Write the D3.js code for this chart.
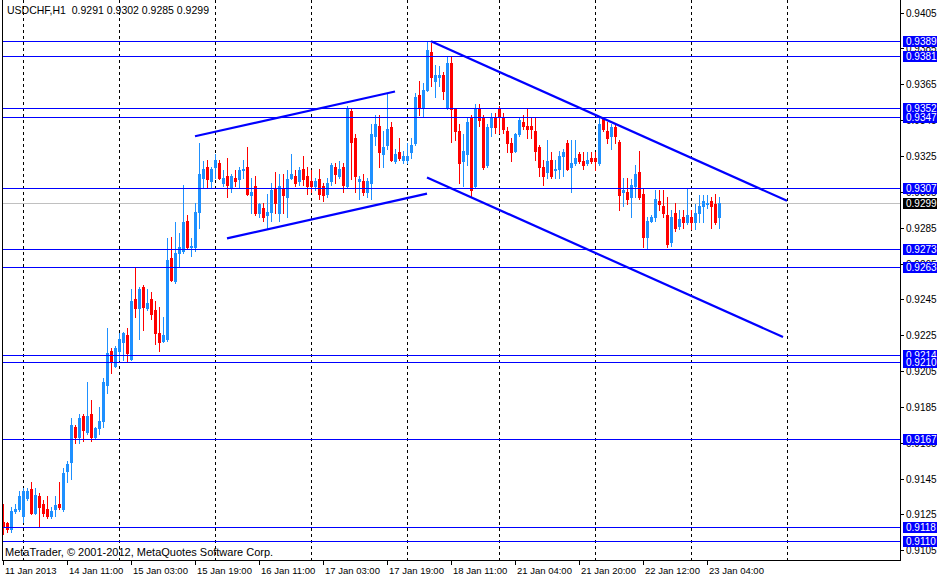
<!DOCTYPE html>
<html>
<head>
<meta charset="utf-8">
<script src="https://cdn.jsdelivr.net/npm/d3@7"></script>
<style>
  body { margin: 0; background: #fff; }
  svg { display: block; font-family: "Liberation Sans", Arial, sans-serif; font-size: 10px; }
</style>
</head>
<body>
<div id="chart"></div>
<script>
// USDCHF H1, one value per bar
var open = [0.9121,0.9120,0.9117,0.9127,0.9128,0.9124,0.9134,0.9139,0.9126,0.9135,
  0.9131,0.9128,0.9124,0.9128,0.9131,0.9128,0.9149,0.9154,0.9174,0.9168,
  0.9180,0.9171,0.9181,0.9168,0.9173,0.9177,0.9197,0.9216,0.9208,0.9216,
  0.9221,0.9225,0.9212,0.9245,0.9240,0.9252,0.9240,0.9245,0.9239,0.9226,
  0.9222,0.9223,0.9268,0.9255,0.9271,0.9272,0.9289,0.9274,0.9274,0.9294,
  0.9313,0.9319,0.9311,0.9319,0.9321,0.9310,0.9314,0.9307,0.9313,0.9312,
  0.9317,0.9319,0.9303,0.9308,0.9293,0.9296,0.9292,0.9294,0.9307,0.9293,
  0.9307,0.9302,0.9313,0.9314,0.9311,0.9318,0.9314,0.9311,0.9308,0.9312,
  0.9308,0.9304,0.9311,0.9319,0.9314,0.9319,0.9308,0.9350,0.9335,0.9311,
  0.9311,0.9305,0.9310,0.9336,0.9342,0.9326,0.9331,0.9341,0.9322,0.9327,
  0.9323,0.9323,0.9327,0.9332,0.9359,0.9352,0.9362,0.9383,0.9367,0.9369,
  0.9370,0.9352,0.9377,0.9351,0.9339,0.9322,0.9326,0.9347,0.9308,0.9352,
  0.9346,0.9320,0.9341,0.9347,0.9352,0.9347,0.9339,0.9332,0.9328,0.9337,
  0.9344,0.9342,0.9342,0.9339,0.9330,0.9319,0.9316,0.9323,0.9317,0.9318,
  0.9325,0.9332,0.9319,0.9321,0.9326,0.9322,0.9321,0.9324,0.9324,0.9321,
  0.9346,0.9339,0.9336,0.9341,0.9333,0.9305,0.9305,0.9302,0.9308,0.9316,
  0.9304,0.9280,0.9289,0.9291,0.9300,0.9297,0.9292,0.9277,0.9293,0.9286,
  0.9291,0.9288,0.9291,0.9288,0.9293,0.9297,0.9298,0.9300,0.9298,0.9291];
var high = [0.9131,0.9121,0.9129,0.9131,0.9138,0.9140,0.9140,0.9143,0.9140,0.9137,
  0.9133,0.9135,0.9129,0.9135,0.9143,0.9151,0.9155,0.9179,0.9175,0.9181,
  0.9181,0.9199,0.9189,0.9174,0.9185,0.9201,0.9229,0.9218,0.9219,0.9226,
  0.9227,0.9229,0.9251,0.9263,0.9252,0.9253,0.9251,0.9249,0.9244,0.9241,
  0.9235,0.9279,0.9280,0.9288,0.9282,0.9309,0.9292,0.9279,0.9299,0.9332,
  0.9322,0.9323,0.9319,0.9326,0.9323,0.9317,0.9324,0.9315,0.9317,0.9319,
  0.9323,0.9330,0.9313,0.9314,0.9299,0.9299,0.9304,0.9310,0.9316,0.9315,
  0.9315,0.9317,0.9326,0.9317,0.9319,0.9325,0.9319,0.9317,0.9313,0.9318,
  0.9310,0.9313,0.9321,0.9321,0.9322,0.9321,0.9353,0.9352,0.9337,0.9314,
  0.9315,0.9313,0.9343,0.9348,0.9348,0.9339,0.9360,0.9344,0.9329,0.9335,
  0.9328,0.9332,0.9335,0.9360,0.9367,0.9366,0.9389,0.9388,0.9376,0.9375,
  0.9372,0.9380,0.9380,0.9352,0.9343,0.9337,0.9346,0.9348,0.9354,0.9354,
  0.9348,0.9343,0.9349,0.9349,0.9353,0.9349,0.9341,0.9335,0.9338,0.9347,
  0.9348,0.9351,0.9347,0.9347,0.9331,0.9323,0.9334,0.9327,0.9323,0.9328,
  0.9329,0.9334,0.9334,0.9334,0.9327,0.9327,0.9327,0.9327,0.9327,0.9346,
  0.9347,0.9344,0.9343,0.9343,0.9334,0.9313,0.9313,0.9312,0.9320,0.9328,
  0.9307,0.9291,0.9292,0.9306,0.9306,0.9306,0.9302,0.9295,0.9299,0.9295,
  0.9295,0.9307,0.9295,0.9298,0.9303,0.9303,0.9303,0.9302,0.9304,0.9302];
var low = [0.9114,0.9115,0.9115,0.9126,0.9127,0.9121,0.9133,0.9125,0.9125,0.9118,
  0.9124,0.9123,0.9123,0.9124,0.9128,0.9127,0.9143,0.9145,0.9165,0.9165,
  0.9166,0.9170,0.9166,0.9167,0.9170,0.9174,0.9193,0.9204,0.9207,0.9211,
  0.9211,0.9210,0.9211,0.9235,0.9223,0.9228,0.9239,0.9234,0.9220,0.9216,
  0.9221,0.9222,0.9255,0.9254,0.9263,0.9271,0.9273,0.9269,0.9272,0.9285,
  0.9307,0.9307,0.9307,0.9313,0.9312,0.9308,0.9302,0.9305,0.9308,0.9307,
  0.9313,0.9303,0.9293,0.9292,0.9291,0.9289,0.9285,0.9289,0.9293,0.9289,
  0.9293,0.9291,0.9312,0.9308,0.9309,0.9309,0.9304,0.9305,0.9306,0.9301,
  0.9300,0.9302,0.9309,0.9310,0.9313,0.9305,0.9307,0.9312,0.9305,0.9301,
  0.9303,0.9302,0.9301,0.9331,0.9319,0.9319,0.9329,0.9322,0.9321,0.9323,
  0.9321,0.9321,0.9324,0.9331,0.9348,0.9347,0.9361,0.9364,0.9358,0.9364,
  0.9357,0.9351,0.9333,0.9334,0.9310,0.9308,0.9320,0.9302,0.9307,0.9342,
  0.9318,0.9319,0.9336,0.9338,0.9338,0.9338,0.9327,0.9322,0.9327,0.9336,
  0.9340,0.9335,0.9335,0.9323,0.9314,0.9309,0.9313,0.9313,0.9313,0.9313,
  0.9314,0.9317,0.9305,0.9320,0.9321,0.9318,0.9320,0.9321,0.9317,0.9320,
  0.9339,0.9332,0.9329,0.9332,0.9295,0.9297,0.9298,0.9291,0.9302,0.9301,
  0.9274,0.9273,0.9288,0.9289,0.9295,0.9291,0.9274,0.9275,0.9283,0.9284,
  0.9285,0.9287,0.9284,0.9284,0.9288,0.9288,0.9296,0.9285,0.9287,0.9285];
var close = [0.9118,0.9117,0.9127,0.9128,0.9135,0.9138,0.9138,0.9126,0.9136,0.9129,
  0.9126,0.9124,0.9127,0.9130,0.9129,0.9148,0.9153,0.9175,0.9168,0.9179,
  0.9172,0.9180,0.9168,0.9173,0.9177,0.9199,0.9215,0.9210,0.9218,0.9223,
  0.9226,0.9215,0.9244,0.9240,0.9251,0.9241,0.9243,0.9237,0.9226,0.9221,
  0.9225,0.9267,0.9256,0.9271,0.9274,0.9288,0.9274,0.9275,0.9294,0.9315,
  0.9318,0.9312,0.9318,0.9323,0.9313,0.9313,0.9309,0.9314,0.9311,0.9317,
  0.9318,0.9304,0.9305,0.9293,0.9298,0.9291,0.9294,0.9306,0.9299,0.9308,
  0.9303,0.9312,0.9315,0.9310,0.9317,0.9312,0.9308,0.9308,0.9311,0.9304,
  0.9303,0.9310,0.9320,0.9315,0.9318,0.9309,0.9352,0.9333,0.9314,0.9312,
  0.9305,0.9311,0.9337,0.9343,0.9327,0.9330,0.9340,0.9323,0.9326,0.9324,
  0.9325,0.9325,0.9331,0.9358,0.9352,0.9362,0.9384,0.9369,0.9370,0.9370,
  0.9361,0.9377,0.9351,0.9339,0.9321,0.9328,0.9344,0.9306,0.9352,0.9345,
  0.9319,0.9341,0.9346,0.9341,0.9347,0.9340,0.9332,0.9327,0.9337,0.9345,
  0.9342,0.9340,0.9340,0.9328,0.9319,0.9314,0.9322,0.9314,0.9318,0.9325,
  0.9327,0.9318,0.9321,0.9324,0.9322,0.9320,0.9323,0.9322,0.9322,0.9343,
  0.9340,0.9335,0.9341,0.9336,0.9303,0.9306,0.9301,0.9309,0.9315,0.9302,
  0.9280,0.9289,0.9291,0.9301,0.9298,0.9293,0.9276,0.9291,0.9285,0.9290,
  0.9288,0.9292,0.9288,0.9293,0.9297,0.9300,0.9299,0.9297,0.9288,0.9299];

// horizontal levels drawn on the chart and the current bid
var levels = [0.9389, 0.9381, 0.9352, 0.9347, 0.9307, 0.9273, 0.9263, 0.9214, 0.9210, 0.9167, 0.9118, 0.9110];
var bid = 0.9299;

// trend lines: bar index / price at both ends
var trendBarA   = [48, 56, 107, 106];
var trendPriceA = [0.9336, 0.9279, 0.9389, 0.9313];
var trendBarB   = [98, 106, 196, 195];
var trendPriceB = [0.9361, 0.9304, 0.9300, 0.9224];

// axes
var priceTicks = [0.9405, 0.9385, 0.9365, 0.9345, 0.9325, 0.9305, 0.9285, 0.9265,
                  0.9245, 0.9225, 0.9205, 0.9185, 0.9165, 0.9145, 0.9125, 0.9105];
var timeBars = [0, 16, 32, 48, 64, 80, 96, 112, 128, 144, 160, 176];
var timeLabels = ["11 Jan 2013", "14 Jan 11:00", "15 Jan 03:00", "15 Jan 19:00", "16 Jan 11:00",
                  "17 Jan 03:00", "17 Jan 19:00", "18 Jan 11:00", "21 Jan 04:00", "21 Jan 20:00",
                  "22 Jan 12:00", "23 Jan 04:00"];
var gridBars = [5, 29, 53, 77, 101, 124, 148, 172, 196];

var titleText = "USDCHF,H1  0.9291 0.9302 0.9285 0.9299";
var copyText = "MetaTrader, \u00a9 2001-2012, MetaQuotes Software Corp.";

var width = 938, height = 577;
var left = 2, right = 900, bottom = 560;

var svg = d3.select("#chart").append("svg")
  .attr("width", width)
  .attr("height", height);

svg.append("rect").attr("width", width).attr("height", height).attr("fill", "#fff");

// 4px per bar, bar 0 centred at x=3
var x = d3.scaleLinear().domain([0, 224]).range([3, 899]);
var y = d3.scaleLinear().domain([0.9110, 0.9389]).range([541.3, 41.3]);

function px(v) { return Math.round(v) + 0.5; }

var bars = d3.range(open.length).map(function(i) {
  return { i: i, o: open[i], h: high[i], l: low[i], c: close[i] };
});

// dashed vertical grid
svg.append("g").selectAll("line")
  .data(gridBars)
  .enter().append("line")
  .attr("x1", function(d) { return px(x(d)); })
  .attr("x2", function(d) { return px(x(d)); })
  .attr("y1", 0)
  .attr("y2", bottom)
  .attr("stroke", "#000")
  .attr("stroke-dasharray", "3,3")
  .attr("shape-rendering", "crispEdges");

// bid line sits behind the candles
svg.append("line")
  .attr("x1", left).attr("x2", right)
  .attr("y1", px(y(bid))).attr("y2", px(y(bid)))
  .attr("stroke", "#c0c0c0")
  .attr("shape-rendering", "crispEdges");

// candles
var candle = svg.append("g").attr("shape-rendering", "crispEdges")
  .selectAll("g")
  .data(bars)
  .enter().append("g")
  .attr("fill", function(d) { return d.c >= d.o ? "#1e90ff" : "#ff0000"; });

candle.append("rect")
  .attr("x", function(d) { return Math.round(x(d.i)); })
  .attr("width", 1)
  .attr("y", function(d) { return Math.round(y(d.h)); })
  .attr("height", function(d) { return Math.max(1, Math.round(y(d.l)) - Math.round(y(d.h)) + 1); });

candle.append("rect")
  .attr("x", function(d) { return Math.round(x(d.i)) - 1; })
  .attr("width", 3)
  .attr("y", function(d) { return Math.round(y(Math.max(d.o, d.c))); })
  .attr("height", function(d) {
    return Math.max(1, Math.round(y(Math.min(d.o, d.c))) - Math.round(y(Math.max(d.o, d.c))) + 1);
  });

// horizontal levels
svg.append("g").selectAll("line")
  .data(levels)
  .enter().append("line")
  .attr("x1", left).attr("x2", right)
  .attr("y1", function(d) { return px(y(d)); })
  .attr("y2", function(d) { return px(y(d)); })
  .attr("stroke", "#0000ff")
  .attr("shape-rendering", "crispEdges");

// trend lines
svg.append("g").selectAll("line")
  .data(trendBarA)
  .enter().append("line")
  .attr("x1", function(d) { return x(d); })
  .attr("y1", function(d, i) { return y(trendPriceA[i]); })
  .attr("x2", function(d, i) { return x(trendBarB[i]); })
  .attr("y2", function(d, i) { return y(trendPriceB[i]); })
  .attr("stroke", "#0000ff")
  .attr("stroke-width", 2.2);

// frame
svg.append("path")
  .attr("d", "M" + (left + 0.5) + ",0V" + (bottom + 0.5) + "H" + (right + 0.5) + "V0")
  .attr("fill", "none")
  .attr("stroke", "#000")
  .attr("shape-rendering", "crispEdges");

// price axis
var pAxis = svg.append("g");
pAxis.selectAll("line")
  .data(priceTicks)
  .enter().append("line")
  .attr("x1", right).attr("x2", right + 4)
  .attr("y1", function(d) { return px(y(d)); })
  .attr("y2", function(d) { return px(y(d)); })
  .attr("stroke", "#000")
  .attr("shape-rendering", "crispEdges");
pAxis.selectAll("text")
  .data(priceTicks)
  .enter().append("text")
  .attr("x", right + 6)
  .attr("y", function(d) { return y(d) + 4; })
  .attr("fill", "#000")
  .text(function(d) { return d.toFixed(4); });

// level and bid labels
var tags = levels.map(function(p) { return { p: p, bg: "#0000ff" }; })
  .concat([{ p: bid, bg: "#000" }]);
var tag = svg.append("g").selectAll("g")
  .data(tags)
  .enter().append("g")
  .attr("transform", function(d) { return "translate(0," + Math.round(y(d.p)) + ")"; });
tag.append("rect")
  .attr("x", right + 3).attr("y", -5)
  .attr("width", 34).attr("height", 11)
  .attr("fill", function(d) { return d.bg; });
tag.append("text")
  .attr("x", right + 6).attr("y", 4)
  .attr("fill", "#fff")
  .text(function(d) { return d.p.toFixed(4); });

// time axis
var tAxis = svg.append("g");
tAxis.selectAll("line")
  .data(timeBars)
  .enter().append("line")
  .attr("x1", function(d) { return px(x(d)); })
  .attr("x2", function(d) { return px(x(d)); })
  .attr("y1", bottom).attr("y2", bottom + 5)
  .attr("stroke", "#000")
  .attr("shape-rendering", "crispEdges");
tAxis.selectAll("text")
  .data(timeBars)
  .enter().append("text")
  .attr("x", function(d) { return x(d) + 2; })
  .attr("y", 574)
  .attr("fill", "#000")
  .style("font-size", "9.5px")
  .text(function(d, i) { return timeLabels[i]; });

svg.append("text").attr("x", 7).attr("y", 14).attr("fill", "#000")
  .attr("xml:space", "preserve").style("white-space", "pre")
  .style("font-size", "10.5px")
  .text(titleText);
svg.append("text").attr("x", 5).attr("y", 556).attr("fill", "#000")
  .style("font-size", "11px")
  .text(copyText);
</script>
</body>
</html>
